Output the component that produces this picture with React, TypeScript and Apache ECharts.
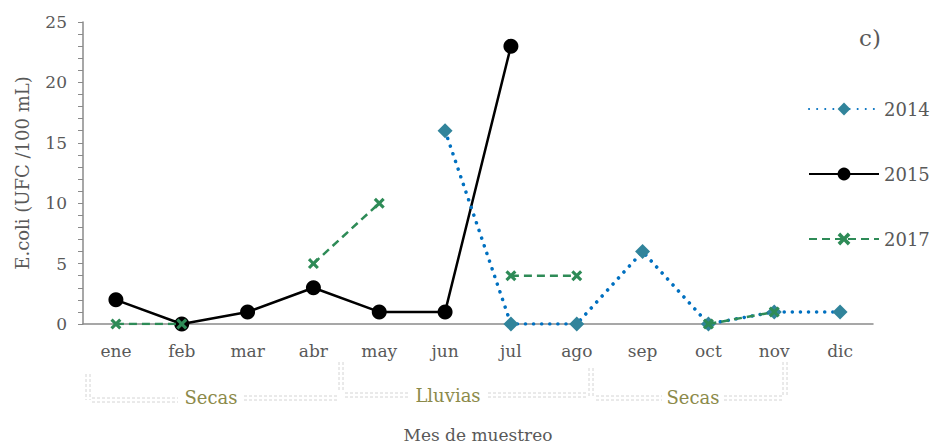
import React, { useEffect, useRef } from "react";
import * as echarts from "echarts";

const months = ["ene", "feb", "mar", "abr", "may", "jun", "jul", "ago", "sep", "oct", "nov", "dic"];
const s2014 = [null, null, null, null, null, 16, 0, 0, 6, 0, 1, 1];
const s2015 = [2, 0, 1, 3, 1, 1, 23, null, null, null, null, null];
const s2017 = [0, 0, null, 5, 10, null, 4, 4, null, 0, 1, null];
const seasons = [
  { label: "Secas", x: 211 },
  { label: "Lluvias", x: 448 },
  { label: "Secas", x: 693 },
];

const FONT = "DejaVu Serif";
const GRAY = "#595959";

function dbl(x1: number, y1: number, x2: number, y2: number) {
  const vertical = x1 === x2;
  const off = 2;
  const style = { stroke: "#d4d4d4", lineWidth: 1, lineDash: [3, 2] };
  return [
    { type: "line", shape: vertical ? { x1: x1 - off, y1, x2: x2 - off, y2 } : { x1, y1: y1 - off, x2, y2: y2 - off }, style, silent: true },
    { type: "line", shape: vertical ? { x1: x1 + off, y1, x2: x2 + off, y2 } : { x1, y1: y1 + off, x2, y2: y2 + off }, style, silent: true },
  ];
}

export default function App() {
  const ref = useRef<HTMLDivElement>(null);
  useEffect(() => {
    const chart = echarts.init(ref.current!, null, { renderer: "svg" });
    const xMark = "path://M2,0 L5,3 L8,0 L10,2 L7,5 L10,8 L8,10 L5,7 L2,10 L0,8 L3,5 L0,2 Z";
    const graphics: any[] = [
      { type: "text", left: 859, top: 26, style: { text: "c)", font: `23px '${FONT}'`, fill: GRAY } },
      ...dbl(88, 374, 88, 400),
      ...dbl(92, 400, 178, 400),
      ...dbl(244, 398, 338, 398),
      ...dbl(341, 362, 341, 392),
      ...dbl(345, 395, 410, 395),
      ...dbl(488, 395, 588, 395),
      ...dbl(591, 368, 591, 398),
      ...dbl(596, 398, 662, 398),
      ...dbl(724, 398, 782, 398),
      ...dbl(785, 362, 785, 395),
      ...seasons.map((s, i) => ({
        type: "text",
        x: s.x,
        y: i === 1 ? 395 : 397,
        style: { text: s.label, font: `18px '${FONT}'`, fill: "#8c8a4a", align: "center", verticalAlign: "middle" },
        silent: true,
      })),
    ];
    chart.setOption({
      animation: false,
      grid: { left: 83, right: 60, top: 22, bottom: 120 },
      legend: {
        orient: "vertical",
        left: 803,
        top: 95,
        itemWidth: 70,
        itemHeight: 16,
        itemGap: 47,
        textStyle: { fontFamily: FONT, fontSize: 18, color: GRAY },
        data: ["2014", "2015", "2017"],
      },
      xAxis: {
        type: "category",
        data: months,
        boundaryGap: true,
        axisLine: { lineStyle: { color: "#8a8a8a", width: 1.5 } },
        axisTick: { show: false },
        axisLabel: { fontFamily: FONT, fontSize: 17, color: GRAY, margin: 18 },
        name: "Mes de muestreo",
        nameLocation: "middle",
        nameGap: 102,
        nameTextStyle: { fontFamily: FONT, fontSize: 17, color: GRAY },
      },
      yAxis: {
        type: "value",
        min: 0,
        max: 25,
        interval: 5,
        splitLine: { show: false },
        axisLine: { show: true, lineStyle: { color: "#8a8a8a", width: 1.5 } },
        axisTick: { show: true, inside: false, length: 5, lineStyle: { color: "#8a8a8a" } },
        minorTick: { show: true, splitNumber: 5, length: 5, lineStyle: { color: "#8a8a8a" } },
        axisLabel: { fontFamily: FONT, fontSize: 17, color: GRAY, margin: 16 },
        name: "E.coli (UFC /100 mL)",
        nameLocation: "middle",
        nameGap: 52,
        nameTextStyle: { fontFamily: FONT, fontSize: 18, color: GRAY },
      },
      series: [
        {
          name: "2014",
          type: "line",
          data: s2014,
          symbol: "diamond",
          symbolSize: 15,
          itemStyle: { color: "#31849b" },
          lineStyle: { color: "#0070c0", width: 3.5, type: [0.1, 8], cap: "round" },
          z: 3,
        },
        {
          name: "2015",
          type: "line",
          data: s2015,
          symbol: "circle",
          symbolSize: 15,
          itemStyle: { color: "#000000" },
          lineStyle: { color: "#000000", width: 2.5 },
          z: 2,
        },
        {
          name: "2017",
          type: "line",
          data: s2017,
          symbol: xMark,
          symbolSize: 11,
          itemStyle: { color: "#2e8b57" },
          lineStyle: { color: "#2e8b57", width: 2.5, type: [8, 5] },
          z: 4,
        },
      ],
      graphic: graphics,
    });
    return () => chart.dispose();
  }, []);
  return <div ref={ref} style={{ position: "absolute", left: 0, top: 0, width: 933, height: 448 }} />;
}
